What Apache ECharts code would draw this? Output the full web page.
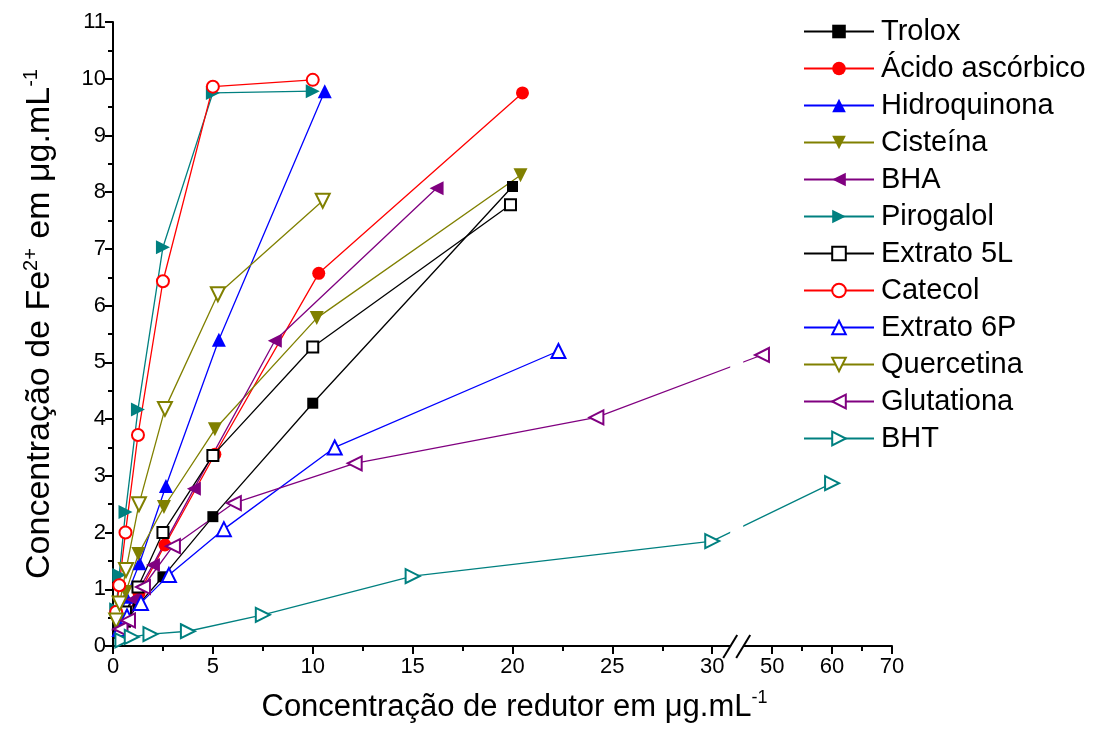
<!DOCTYPE html>
<html><head><meta charset="utf-8">
<script src="https://cdn.jsdelivr.net/npm/echarts@6/dist/echarts.min.js"></script>
<style>html,body{margin:0;padding:0;background:#fff}#c{width:1097px;height:747px}</style>
</head><body><div id="c"></div>
<script>
// ---- data (x: concentração de redutor, y: Fe2+) ----
const troloxX = [0.3125, 0.625, 1.25, 2.5, 5, 10, 20];
const troloxY = [0.22, 0.42, 0.72, 1.22, 2.28, 4.28, 8.10];
const ascorbicoX = [0.32, 0.65, 1.3, 2.6, 5.1, 10.3, 20.5];
const ascorbicoY = [0.25, 0.50, 0.93, 1.78, 3.38, 6.57, 9.75];
const hidroquinonaX = [0.33, 0.66, 1.33, 2.65, 5.3, 10.6];
const hidroquinonaY = [0.45, 0.87, 1.46, 2.82, 5.40, 9.78];
const cisteinaX = [0.32, 0.64, 1.27, 2.55, 5.1, 10.2, 20.4];
const cisteinaY = [0.55, 0.95, 1.62, 2.45, 3.82, 5.78, 8.30];
const bhaX = [0.25, 0.5, 1.0, 2.0, 4.05, 8.1, 16.2];
const bhaY = [0.28, 0.48, 0.82, 1.43, 2.77, 5.38, 8.07];
const pirogalolX = [0.16, 0.31, 0.625, 1.25, 2.5, 5, 10];
const pirogalolY = [0.65, 1.25, 2.36, 4.17, 7.03, 9.75, 9.78];
const extrato5LX = [0.31, 0.625, 1.25, 2.5, 5, 10, 19.9];
const extrato5LY = [0.35, 0.60, 1.04, 2.00, 3.36, 5.27, 7.78];
const catecolX = [0.16, 0.31, 0.625, 1.25, 2.5, 5, 10];
const catecolY = [0.60, 1.07, 2.00, 3.72, 6.43, 9.86, 9.98];
const extrato6PX = [0.35, 0.7, 1.4, 2.8, 5.55, 11.1, 22.3];
const extrato6PY = [0.30, 0.52, 0.76, 1.25, 2.06, 3.50, 5.20];
const quercetinaX = [0.16, 0.33, 0.65, 1.3, 2.6, 5.25, 10.5];
const quercetinaY = [0.45, 0.75, 1.34, 2.50, 4.18, 6.20, 7.85];
const glutationaX = [0.375, 0.75, 1.5, 3.0, 6.05, 12.1, 24.2, 48.3];
const glutationaY = [0.30, 0.45, 1.04, 1.76, 2.52, 3.22, 4.03, 5.13];
const bhtX = [0.47, 0.94, 1.875, 3.75, 7.5, 15, 30, 60];
const bhtY = [0.10, 0.16, 0.21, 0.26, 0.55, 1.23, 1.85, 2.87];

const seriesNames = ['Trolox', 'Ácido ascórbico', 'Hidroquinona', 'Cisteína', 'BHA', 'Pirogalol',
  'Extrato 5L', 'Catecol', 'Extrato 6P', 'Quercetina', 'Glutationa', 'BHT'];
const xTickValues = [0, 5, 10, 15, 20, 25, 30, 50, 60, 70];
const xMinorTickValues = [2.5, 7.5, 12.5, 17.5, 22.5, 27.5, 55, 65];
const yTickMax = 11;

// ---- broken axis mapping: 0..30 linear, then 40..70 compressed (scale 0.3) ----
const BREAK_LO = 30, BREAK_HI = 40, POST_SCALE = 0.3;
function toAxis(x) { return x <= BREAK_LO ? x : BREAK_LO + (x - BREAK_HI) * POST_SCALE; }
function fromAxis(d) { return d <= BREAK_LO + 1e-9 ? d : BREAK_HI + (d - BREAK_LO) / POST_SCALE; }

const TRI_RIGHT = 'path://M0,0L10,5L0,10Z';
const TRI_LEFT = 'path://M10,0L0,5L10,10Z';
const TRI_DOWN = 'path://M0,0L10,0L5,10Z';

const styles = [
  { c: '#000000', s: 'rect', size: 11, hollow: false },
  { c: '#ff0000', s: 'circle', size: 13, hollow: false },
  { c: '#0000ff', s: 'triangle', size: 14, hollow: false },
  { c: '#808000', s: TRI_DOWN, size: 14, hollow: false },
  { c: '#800080', s: TRI_LEFT, size: 14, hollow: false },
  { c: '#008080', s: TRI_RIGHT, size: 14, hollow: false },
  { c: '#000000', s: 'rect', size: 11, hollow: true },
  { c: '#ff0000', s: 'circle', size: 12, hollow: true },
  { c: '#0000ff', s: 'triangle', size: 14, hollow: true },
  { c: '#808000', s: TRI_DOWN, size: 14, hollow: true },
  { c: '#800080', s: TRI_LEFT, size: 14, hollow: true },
  { c: '#008080', s: TRI_RIGHT, size: 14, hollow: true }
];
const dataX = [troloxX, ascorbicoX, hidroquinonaX, cisteinaX, bhaX, pirogalolX,
  extrato5LX, catecolX, extrato6PX, quercetinaX, glutationaX, bhtX];
const dataY = [troloxY, ascorbicoY, hidroquinonaY, cisteinaY, bhaY, pirogalolY,
  extrato5LY, catecolY, extrato6PY, quercetinaY, glutationaY, bhtY];

const FONT = 'Liberation Sans, Arial, sans-serif';

const series = seriesNames.map((name, i) => {
  const st = styles[i];
  return {
    name, type: 'line', xAxisIndex: 0, yAxisIndex: 0,
    data: dataX[i].map((x, k) => [toAxis(x), dataY[i][k]]),
    symbol: st.s, symbolSize: st.size, clip: false,
    lineStyle: { color: st.c, width: 1.3 },
    itemStyle: st.hollow ? { color: '#ffffff', borderColor: st.c, borderWidth: 2 }
                         : { color: st.c, borderWidth: 0 },
    emphasis: { disabled: true },
    z: 2
  };
});

const chart = echarts.init(document.getElementById('c'), null, { renderer: 'canvas' });
const tickRich = { t: { fontFamily: FONT, fontSize: 22, color: '#000', lineHeight: 24 } };
const xNameRich = {
  a: { fontFamily: FONT, fontSize: 31, color: '#000', lineHeight: 36 },
  s: { fontFamily: FONT, fontSize: 18, color: '#000', verticalAlign: 'top', lineHeight: 36 }
};
const yNameRich = {
  a: { fontFamily: FONT, fontSize: 34, color: '#000', lineHeight: 38 },
  s: { fontFamily: FONT, fontSize: 20, color: '#000', verticalAlign: 'top', lineHeight: 38 }
};
chart.setOption({
  backgroundColor: '#ffffff',
  animation: false,
  textStyle: { fontFamily: FONT },
  grid: { left: 113, top: 22, right: 205, bottom: 101, containLabel: false },
  legend: {
    orient: 'vertical', left: 803, top: 17, padding: 0, itemWidth: 70, itemHeight: 17, itemGap: 8,
    textStyle: { fontFamily: FONT, fontSize: 29, color: '#000', padding: [0, 0, 0, 2] },
    data: seriesNames, selectedMode: false
  },
  xAxis: [{
    type: 'value', min: 0, max: toAxis(70),
    axisLine: { show: true, lineStyle: { color: '#000', width: 2 } },
    axisTick: { show: true, length: 8, lineStyle: { color: '#000', width: 2 }, customValues: xTickValues.map(toAxis) },
    axisLabel: { margin: 9, customValues: xTickValues.map(toAxis), rich: tickRich,
      formatter: v => '{t|' + Math.round(fromAxis(v)) + '}' },
    splitLine: { show: false },
    name: '{a|Concentração de redutor em μg.mL}{s|-1}',
    nameLocation: 'middle', nameGap: 43,
    nameTextStyle: { rich: xNameRich, padding: [0, 0, 0, 24] }
  }, {
    type: 'value', min: 0, max: toAxis(70), position: 'bottom',
    axisLine: { show: false },
    axisTick: { show: true, length: 5, lineStyle: { color: '#000', width: 2 }, customValues: xMinorTickValues.map(toAxis) },
    axisLabel: { show: false }, splitLine: { show: false }
  }],
  yAxis: {
    type: 'value', min: 0, max: yTickMax, interval: 1,
    axisLine: { show: true, lineStyle: { color: '#000', width: 2 } },
    axisTick: { show: true, length: 8, lineStyle: { color: '#000', width: 2 } },
    minorTick: { show: true, splitNumber: 2, length: 5, lineStyle: { color: '#000', width: 2 } },
    axisLabel: { margin: 7, rich: tickRich, formatter: v => '{t|' + v + '}' },
    splitLine: { show: false },
    name: '{a|Concentração de Fe}{s|2+}{a| em μg.mL}{s|-1}',
    nameLocation: 'middle', nameGap: 54, nameRotate: 90,
    nameTextStyle: { rich: yNameRich, padding: [0, 0, 0, 20] }
  },
  series
});

// ---- axis break decoration ----
const cx = chart.convertToPixel({ xAxisIndex: 0 }, 31.25);
const yAxisPx = chart.convertToPixel({ yAxisIndex: 0 }, 0);
const yTopPx = chart.convertToPixel({ yAxisIndex: 0 }, yTickMax);
chart.setOption({
  graphic: [
    { type: 'rect', z: 100, shape: { x: cx - 7, y: yTopPx, width: 13, height: yAxisPx - yTopPx + 3 }, style: { fill: '#ffffff' } },
    { type: 'line', z: 101, shape: { x1: cx - 14, y1: yAxisPx + 12, x2: cx, y2: yAxisPx - 11 }, style: { stroke: '#000', lineWidth: 2 } },
    { type: 'line', z: 101, shape: { x1: cx - 1, y1: yAxisPx + 12, x2: cx + 13, y2: yAxisPx - 11 }, style: { stroke: '#000', lineWidth: 2 } }
  ]
});
</script></body></html>
